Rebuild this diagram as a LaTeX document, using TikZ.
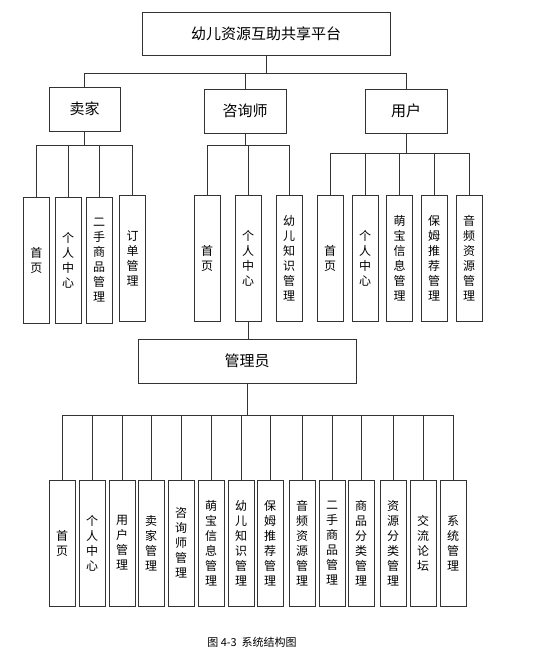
\documentclass[tikz,border=0pt]{standalone}
\usepackage{fontspec}
\setmainfont{Noto Sans CJK SC}
\begin{document}
\begin{tikzpicture}[x=1pt,y=-1pt,
  line width=0.8pt,
  conn/.style={draw=black!80,line width=0.8pt},
  bigbox/.style={draw=black!80,line width=0.9pt,fill=white,inner sep=0pt,font=\fontsize{15}{18}\selectfont},
  colbox/.style={draw=black!80,line width=0.9pt,fill=white,inner sep=0pt,minimum width=26,minimum height=126,align=center,font=\fontsize{12}{15}\selectfont},
  captext/.style={font=\fontsize{11}{12}\selectfont}
]
\useasboundingbox (0,0) rectangle (559,656);
% top
\node[bigbox,minimum width=248,minimum height=43] (top) at (266,33.5) {幼儿资源互助共享平台};
\node[bigbox,minimum width=71,minimum height=44] (seller) at (84.5,109) {卖家};
\node[bigbox,minimum width=82,minimum height=44] (cons) at (245,111) {咨询师};
\node[bigbox,minimum width=82,minimum height=44] (user) at (406,111) {用户};
\coordinate (b1) at (266,73);
\draw[conn] (top.south) -- (b1);
\draw[conn] (b1) -| (seller.north);
\draw[conn] (b1) -| (cons.north);
\draw[conn] (b1) -| (user.north);
% seller children
\node[colbox] (s1) at (36.5,260) {首\\页};
\node[colbox] (s2) at (68,260) {个\\人\\中\\心};
\node[colbox] (s3) at (99,260) {二\\手\\商\\品\\管\\理};
\node[colbox] (s4) at (132.5,258) {订\\单\\管\\理};
\coordinate (b2) at (84.5,145);
\draw[conn] (seller.south) -- (b2);
\foreach \n in {s1,s2,s3,s4} \draw[conn] (b2) -| (\n.north);
% consultant children
\node[colbox] (c1) at (207,258) {首\\页};
\node[colbox] (c2) at (248,258) {个\\人\\中\\心};
\node[colbox] (c3) at (289,258) {幼\\儿\\知\\识\\管\\理};
\coordinate (b3) at (245,145);
\draw[conn] (cons.south) -- (b3);
\foreach \n in {c1,c2,c3} \draw[conn] (b3) -| (\n.north);
% user children
\node[colbox] (u1) at (330,258) {首\\页};
\node[colbox] (u2) at (365,258) {个\\人\\中\\心};
\node[colbox] (u3) at (399.5,258) {萌\\宝\\信\\息\\管\\理};
\node[colbox] (u4) at (434,258) {保\\姆\\推\\荐\\管\\理};
\node[colbox] (u5) at (469,258) {音\\频\\资\\源\\管\\理};
\coordinate (b4) at (406,153);
\draw[conn] (user.south) -- (b4);
\foreach \n in {u1,u2,u3,u4,u5} \draw[conn] (b4) -| (\n.north);
% admin
\node[bigbox,minimum width=218,minimum height=44] (admin) at (247,361) {管理员};
\draw[conn] (c2.south) -- (c2.south |- admin.north);
\coordinate (b5) at (247,415);
\draw[conn] (admin.south) -- (b5);
\node[colbox] (a1) at (62,543) {首\\页};
\node[colbox] (a2) at (92,543) {个\\人\\中\\心};
\node[colbox] (a3) at (122,543) {用\\户\\管\\理};
\node[colbox] (a4) at (151,543) {卖\\家\\管\\理};
\node[colbox] (a5) at (181,543) {咨\\询\\师\\管\\理};
\node[colbox] (a6) at (211,543) {萌\\宝\\信\\息\\管\\理};
\node[colbox] (a7) at (241,543) {幼\\儿\\知\\识\\管\\理};
\node[colbox] (a8) at (270,543) {保\\姆\\推\\荐\\管\\理};
\node[colbox] (a9) at (302,543) {音\\频\\资\\源\\管\\理};
\node[colbox] (a10) at (332,543) {二\\手\\商\\品\\管\\理};
\node[colbox] (a11) at (361,543) {商\\品\\分\\类\\管\\理};
\node[colbox] (a12) at (393,543) {资\\源\\分\\类\\管\\理};
\node[colbox] (a13) at (423,543) {交\\流\\论\\坛};
\node[colbox] (a14) at (453,543) {系\\统\\管\\理};
\foreach \n in {a1,a2,a3,a4,a5,a6,a7,a8,a9,a10,a11,a12,a13,a14} \draw[conn] (b5) -| (\n.north);
\node[captext] (caption) at (252,642) {图 4-3\ \ 系统结构图};
\end{tikzpicture}
\end{document}
